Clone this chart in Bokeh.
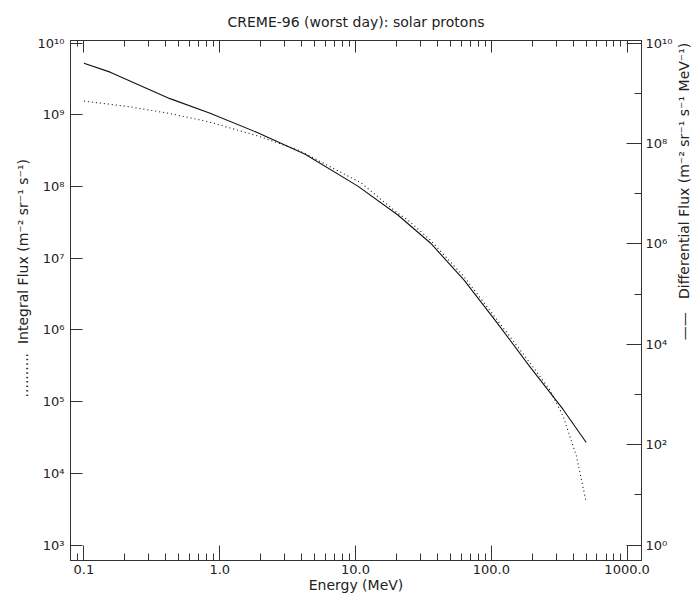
import math
from bokeh.plotting import figure
from bokeh.layouts import row
from bokeh.models import Range1d, LogScale, LogAxis, FixedTicker, Label
from bokeh.embed import file_html
from bokeh.resources import INLINE

# ---------------- data ----------------
energy_diff = [0.10, 0.156, 0.43, 0.84, 1.94, 4.26, 10.4, 20.5, 35.6, 62.8, 110.0, 192.0, 338.0, 500.0]
diff_flux = [3.97e9, 2.63e9, 7.80e8, 4.04e8, 1.60e8, 6.10e7, 1.41e7, 3.75e6, 1.04e6, 1.92e5, 2.69e4, 3.59e3, 5.02e2, 1.10e2]

energy_int = [0.10, 0.206, 0.43, 0.84, 1.94, 3.81, 11.0, 20.5, 24.3, 35.6, 62.8, 110.0, 192.0, 268.0, 338.0, 423.0, 500.0]
int_flux = [1.55e9, 1.31e9, 1.04e9, 7.92e8, 5.01e8, 3.20e8, 1.12e8, 4.22e7, 3.40e7, 1.79e7, 5.55e6, 1.39e6, 3.50e5, 1.48e5, 6.28e4, 1.75e4, 3.93e3]

x_ticks = [0.1, 1.0, 10.0, 100.0, 1000.0]
x_tick_labels = ["0.1", "1.0", "10.0", "100.0", "1000.0"]
left_ticks = [1e3, 1e4, 1e5, 1e6, 1e7, 1e8, 1e9, 1e10]
left_tick_labels = ["10\u00b3", "10\u2074", "10\u2075", "10\u2076", "10\u2077", "10\u2078", "10\u2079", "10\u00b9\u2070"]
right_ticks = [1e0, 1e2, 1e4, 1e6, 1e8, 1e10]
right_tick_labels = ["10\u2070", "10\u00b2", "10\u2074", "10\u2076", "10\u2078", "10\u00b9\u2070"]
right_minor = [1e1, 1e3, 1e5, 1e7, 1e9]

title_text = "CREME-96 (worst day): solar protons"
x_label = "Energy (MeV)"
left_label = "..........\u00a0\u00a0Integral Flux (m\u207b\u00b2 sr\u207b\u00b9 s\u207b\u00b9)"
right_label = "\u2014\u2014\u00a0\u00a0\u00a0Differential Flux (m\u207b\u00b2 sr\u207b\u00b9 s\u207b\u00b9 MeV\u207b\u00b9)"

FONT = "DejaVu Sans"
NB = "\u00a0"
TOTAL_W, TOTAL_H = 691, 595
STRIP_W = 16

x_minor = [k * 10.0 ** d for d in range(-2, 3) for k in range(2, 10)]

p = figure(width=TOTAL_W - STRIP_W, height=TOTAL_H, x_axis_type="log", y_axis_type="log",
           x_range=Range1d(10 ** -1.099, 10 ** 3.106),
           y_range=Range1d(10 ** 2.785, 10 ** 10.035),
           output_backend="svg", toolbar_location=None,
           min_border_left=70, min_border_right=29, min_border_top=40, min_border_bottom=33,
           title=title_text)
p.extra_y_ranges = {"diff": Range1d(10 ** -0.308, 10 ** 10.05)}
p.extra_y_scales = {"diff": LogScale()}

p.title.align = "center"
p.title.text_font = FONT
p.title.text_font_size = "14px"
p.title.text_font_style = "normal"
p.title.text_color = "#222222"
p.title.standoff = 22

p.xgrid.visible = False
p.ygrid.visible = False
p.outline_line_color = "#333333"
p.background_fill_color = "white"
p.border_fill_color = "white"

def style_axis(ax, maj_in, min_in):
    ax.axis_line_color = "#333333"
    ax.major_tick_line_color = "#333333"
    ax.minor_tick_line_color = "#333333"
    ax.major_tick_in = maj_in
    ax.major_tick_out = 0
    ax.minor_tick_in = min_in
    ax.minor_tick_out = 0
    ax.major_label_text_font = FONT
    ax.major_label_text_font_size = "13px"
    ax.major_label_text_color = "#222222"
    ax.axis_label_text_font = FONT
    ax.axis_label_text_font_size = "14px"
    ax.axis_label_text_font_style = "normal"
    ax.axis_label_text_color = "#222222"

# bottom axis
xa = p.xaxis[0]
xa.ticker = FixedTicker(ticks=x_ticks, minor_ticks=x_minor)
xa.major_label_overrides = dict(zip(x_ticks, x_tick_labels))
style_axis(xa, 15, 7)
xa.axis_label = x_label
xa.major_label_standoff = 4
xa.axis_label_standoff = 0

# top axis (mirror, labels hidden)
ta = LogAxis(ticker=FixedTicker(ticks=x_ticks, minor_ticks=x_minor))
style_axis(ta, 12, 6)
ta.major_label_text_font_size = "2px"
ta.major_label_text_color = None
ta.major_label_standoff = 0
p.add_layout(ta, "above")

# left axis (integral flux)
ya = p.yaxis[0]
ya.ticker = FixedTicker(ticks=left_ticks, minor_ticks=[])
ya.major_label_overrides = dict(zip(left_ticks, left_tick_labels))
style_axis(ya, 12, 0)
ya.major_label_standoff = 6
ya.axis_label = NB * 10 + left_label
ya.axis_label_standoff = 4

# right axis (differential flux)
ra = LogAxis(y_range_name="diff", ticker=FixedTicker(ticks=right_ticks, minor_ticks=right_minor))
ra.major_label_overrides = dict(zip(right_ticks, right_tick_labels))
style_axis(ra, 15, 7)
ra.major_label_standoff = 4
p.add_layout(ra, "right")

# curves
p.line(energy_diff, diff_flux, y_range_name="diff", line_color="#111111", line_width=1.1)
p.line(energy_int, int_flux, line_color="#111111", line_width=1.1, line_dash="1 3")

# narrow strip on the right holding the rotated right-axis title
s = figure(width=STRIP_W, height=TOTAL_H, x_range=Range1d(0, STRIP_W), y_range=Range1d(0, TOTAL_H),
           output_backend="svg", toolbar_location=None, min_border=0,
           x_axis_location=None, y_axis_location=None)
s.outline_line_color = None
s.xgrid.visible = False
s.ygrid.visible = False
s.background_fill_color = "white"
s.border_fill_color = "white"
s.add_layout(Label(x=8, y=TOTAL_H - 226, x_units="screen", y_units="screen",
                   text=right_label, angle=math.pi / 2, text_align="center", text_baseline="middle",
                   text_font=FONT, text_font_size="14px", text_color="#222222"))

layout = row(p, s)
open("out.html", "w").write(file_html(layout, INLINE))
